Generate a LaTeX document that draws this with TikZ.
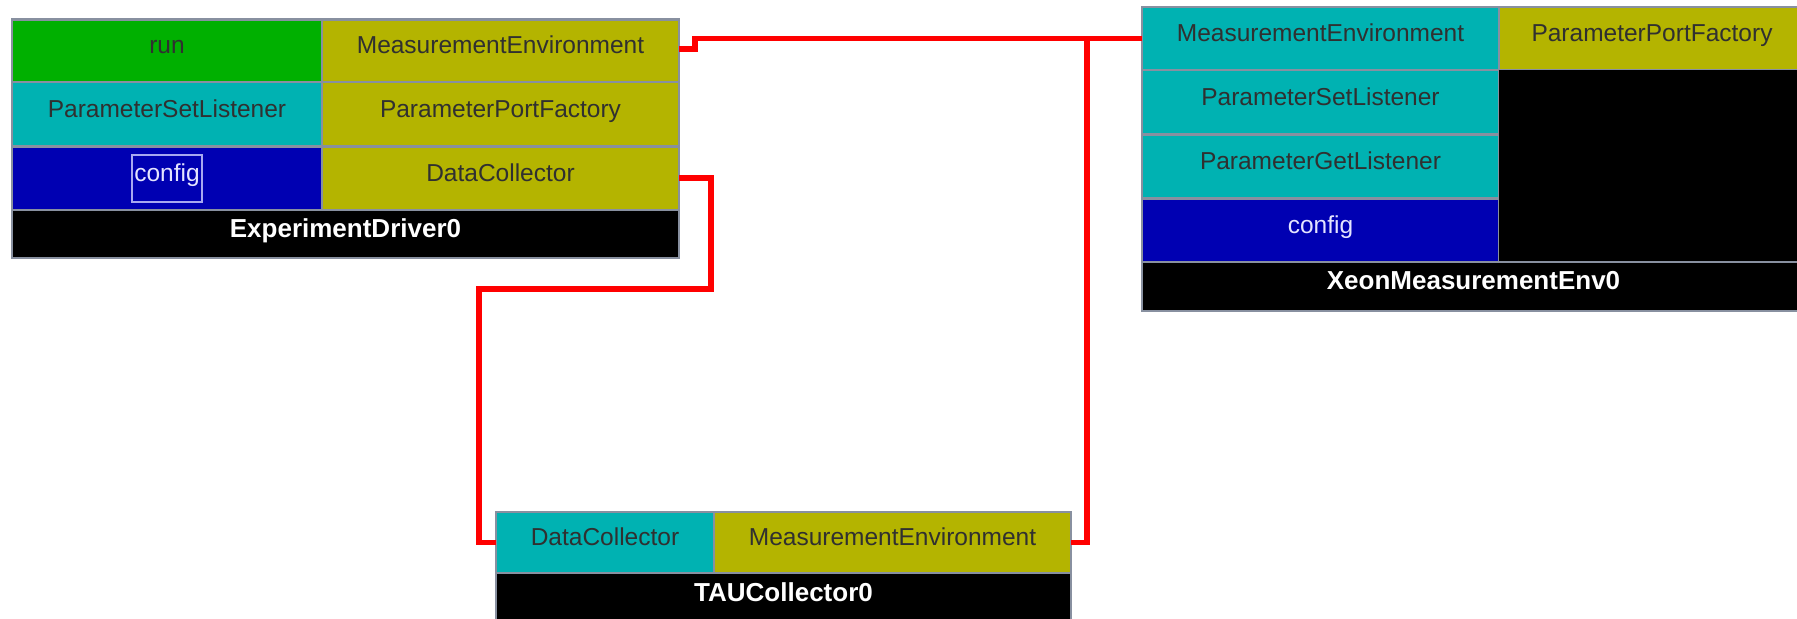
\documentclass[tikz,border=0pt]{standalone}
\usepackage{fontspec}
\setmainfont{Liberation Sans}
\usetikzlibrary{calc}

\definecolor{portgreen}{RGB}{0,176,0}
\definecolor{portolive}{RGB}{180,180,0}
\definecolor{portteal}{RGB}{0,178,178}
\definecolor{portblue}{RGB}{0,0,178}
\definecolor{cellline}{HTML}{8890A0}
\definecolor{darktext}{HTML}{303030}
\definecolor{lighttext}{HTML}{E4E4FF}
\definecolor{focusline}{HTML}{A8A8F0}
\definecolor{wire}{RGB}{255,0,0}

\tikzset{
  cellbox/.style={rectangle, draw=cellline, line width=1.2pt, inner sep=0pt, outer sep=0pt},
  porttext/.style={text=darktext, inner sep=0pt, font=\fontsize{12.25pt}{14pt}\selectfont},
  cfgtext/.style={text=lighttext, inner sep=0pt, font=\fontsize{12.25pt}{14pt}\selectfont},
  nametext/.style={text=white, inner sep=0pt, font=\fontsize{13pt}{15pt}\selectfont\bfseries},
  focusbox/.style={rectangle, draw=focusline, line width=1pt, inner sep=0pt},
  connector/.style={draw=wire, line width=2.75pt},
}

% \portcell{name}{x1}{y1}{x2}{y2}{fill}{text style}{text}  (pixel units, y downwards)
\newcommand\portcell[8]{%
  \node[cellbox, fill=#6,
        minimum width={(#4-#2)*0.5pt}, minimum height={(#5-#3)*0.5pt}]
        (#1) at ({(#2+#4)/2},{(#3+#5)/2}) {};
  \node[#7, anchor=base] (#1-t) at ($(#1.center)+(0,3)$) {#8};
}

\begin{document}
\begin{tikzpicture}[x=0.5pt, y=-0.5pt]
  \useasboundingbox (0,0) rectangle (1797,618);
  \clip (0,0) rectangle (1797,618);

  % ---- ExperimentDriver0 ----
  \portcell{edRun}{12}{19.5}{322}{82}{portgreen}{porttext}{run}
  \portcell{edME}{322}{19.5}{679}{82}{portolive}{porttext}{MeasurementEnvironment}
  \portcell{edPSL}{12}{82}{322}{146.5}{portteal}{porttext}{ParameterSetListener}
  \portcell{edPPF}{322}{82}{679}{146.5}{portolive}{porttext}{ParameterPortFactory}
  \portcell{edCfg}{12}{146.5}{322}{210}{portblue}{cfgtext}{config}
  \portcell{edDC}{322}{146.5}{679}{210}{portolive}{porttext}{DataCollector}
  \portcell{edName}{12}{210}{679}{258}{black}{nametext}{ExperimentDriver0}
  \node[focusbox, minimum width=35pt, minimum height=23.5pt] (edFocus) at (167,178.5) {};

  % ---- XeonMeasurementEnv0 ----
  \portcell{xeME}{1142}{7}{1499}{70}{portteal}{porttext}{MeasurementEnvironment}
  \portcell{xePPF}{1499}{7}{1805}{70}{portolive}{porttext}{ParameterPortFactory}
  \portcell{xePSL}{1142}{70}{1499}{134.5}{portteal}{porttext}{ParameterSetListener}
  \portcell{xePGL}{1142}{134.5}{1499}{198.5}{portteal}{porttext}{ParameterGetListener}
  \portcell{xeCfg}{1142}{198.5}{1499}{262}{portblue}{cfgtext}{config}
  \node[rectangle, fill=black, inner sep=0pt, minimum width=153pt, minimum height=96pt]
        (xeBlank) at (1652,166) {};
  \portcell{xeName}{1142}{262}{1805}{311}{black}{nametext}{XeonMeasurementEnv0}

  % ---- TAUCollector0 ----
  \portcell{tauDC}{496}{512}{714}{573}{portteal}{porttext}{DataCollector}
  \portcell{tauME}{714}{512}{1071}{573}{portolive}{porttext}{MeasurementEnvironment}
  \portcell{tauName}{496}{573}{1071}{624}{black}{nametext}{TAUCollector0}

  % ---- connections ----
  \coordinate (dcA) at (711,178);
  \coordinate (dcB) at (711,289);
  \coordinate (dcC) at (479,289);
  \coordinate (meA) at (695,49);
  \coordinate (meB) at (695,38.5);
  \coordinate (meJ) at (1087,38.5);

  \draw[connector] (edDC.east |- dcA) -- (dcA) -- (dcB) -- (dcC) |- (tauDC.west);
  \draw[connector] (edME.east |- meA) -- (meA) -- (meB) -- (xeME.west);
  \draw[connector] (meJ) |- (tauME.east);
\end{tikzpicture}
\end{document}
